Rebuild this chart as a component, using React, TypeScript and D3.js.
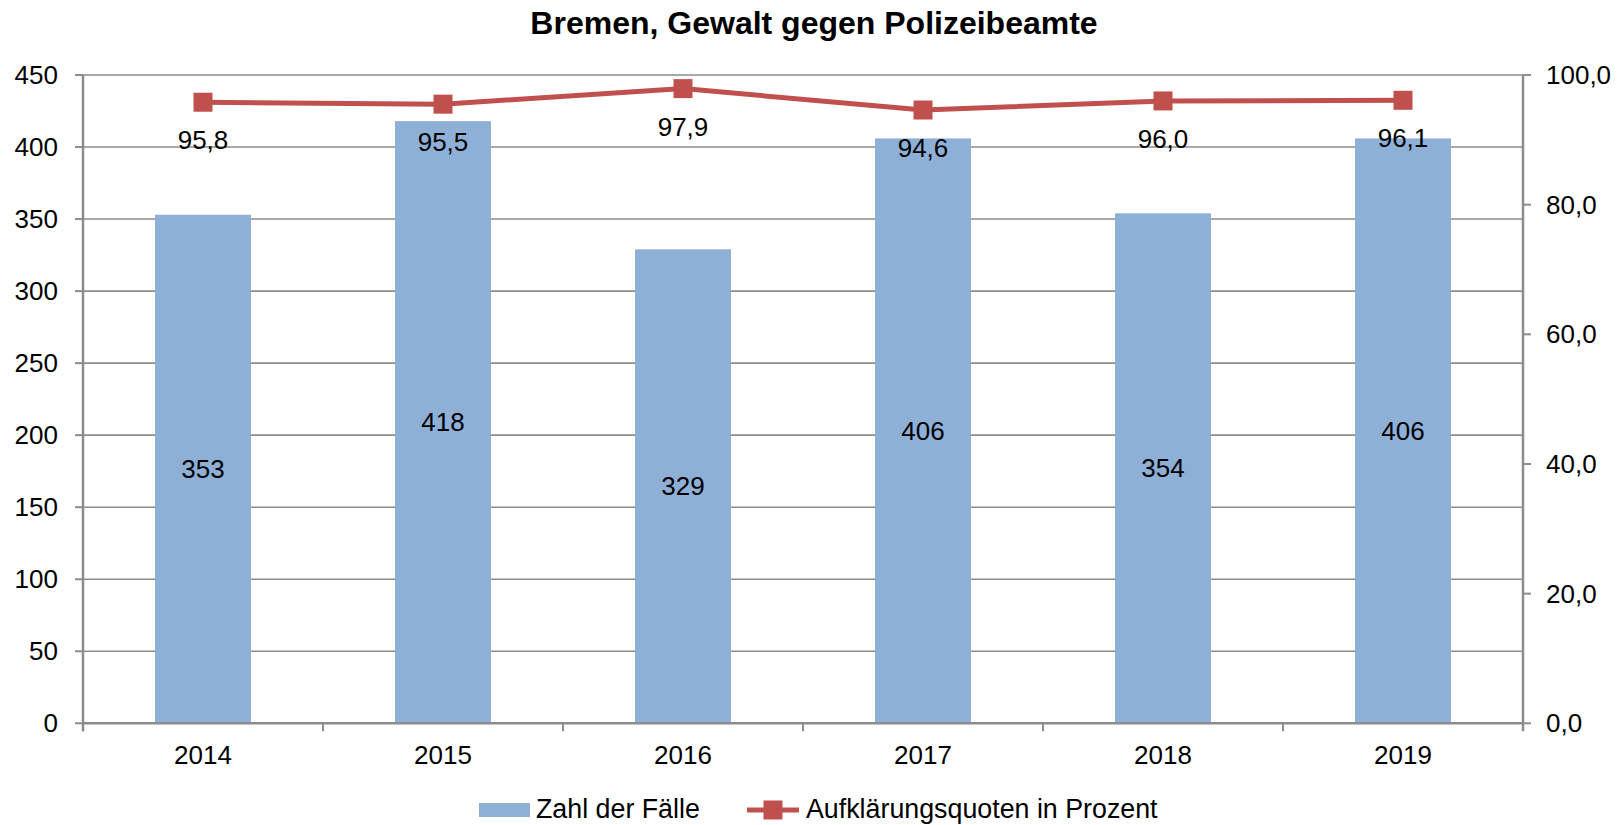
import React from "react";
import * as d3 from "d3";

const years = ["2014", "2015", "2016", "2017", "2018", "2019"];
const cases = [353, 418, 329, 406, 354, 406];
const rates = [95.8, 95.5, 97.9, 94.6, 96.0, 96.1];
const leftTicks = [0, 50, 100, 150, 200, 250, 300, 350, 400, 450];
const rightTicks = [0, 20, 40, 60, 80, 100];
const title = "Bremen, Gewalt gegen Polizeibeamte";
const legendBars = "Zahl der Fälle";
const legendLine = "Aufklärungsquoten in Prozent";

const W = 1623;
const H = 825;
const M = { left: 83, right: 1523, top: 75, bottom: 723.3 };
const FONT = "'Liberation Sans', Arial, sans-serif";
const BAR = "#8EB0D7";
const RED = "#C0504D";
const GRID = "#8C8C8C";
const AXIS = "#8C8C8C";

const fmt = (v: number) => v.toFixed(1).replace(".", ",");

export default function App() {
  const x = d3.scaleBand<string>().domain(years).range([M.left, M.right]).paddingInner(0).paddingOuter(0);
  const yL = d3.scaleLinear().domain([0, 450]).range([M.bottom, M.top]);
  const yR = d3.scaleLinear().domain([0, 100]).range([M.bottom, M.top]);
  const bw = x.bandwidth() * 0.4;
  const cx = (y: string) => (x(y) as number) + x.bandwidth() / 2;
  const line = d3
    .line<number>()
    .x((_, i) => cx(years[i]))
    .y((d) => yR(d));
  const ms = 19;

  return (
    <svg
      width={W}
      height={H}
      style={{ position: "absolute", left: 0, top: 0, background: "#fff" }}
      fontFamily={FONT}
    >
      <rect x={0} y={0} width={W} height={H} fill="#fff" />
      <text x={814} y={34} textAnchor="middle" fontWeight="bold" fontSize={32} fill="#000">
        {title}
      </text>

      {/* gridlines */}
      {leftTicks.filter((t) => t > 0).map((t) => (
        <line key={t} x1={M.left} x2={M.right} y1={yL(t)} y2={yL(t)} stroke={GRID} strokeWidth={1.6} />
      ))}

      {/* bars */}
      {cases.map((v, i) => (
        <rect
          key={years[i]}
          x={cx(years[i]) - bw / 2}
          y={yL(v)}
          width={bw}
          height={yL(0) - yL(v)}
          fill={BAR}
        />
      ))}

      {/* axes */}
      <line x1={M.left} x2={M.left} y1={M.top} y2={M.bottom + 8} stroke={AXIS} strokeWidth={2.5} />
      <line x1={M.right} x2={M.right} y1={M.top} y2={M.bottom + 8} stroke={AXIS} strokeWidth={2.5} />
      <line x1={M.left} x2={M.right} y1={M.bottom} y2={M.bottom} stroke={AXIS} strokeWidth={2.5} />
      {leftTicks.map((t) => (
        <g key={"l" + t}>
          <line x1={M.left - 8} x2={M.left} y1={yL(t)} y2={yL(t)} stroke={AXIS} strokeWidth={2} />
          <text x={58} y={yL(t) + 9} textAnchor="end" fontSize={26} fill="#000">
            {t}
          </text>
        </g>
      ))}
      {rightTicks.map((t) => (
        <g key={"r" + t}>
          <line x1={M.right} x2={M.right + 8} y1={yR(t)} y2={yR(t)} stroke={AXIS} strokeWidth={2} />
          <text x={1546} y={yR(t) + 9} textAnchor="start" fontSize={26} fill="#000">
            {fmt(t)}
          </text>
        </g>
      ))}
      {years.map((y, i) => (
        <g key={"x" + y}>
          <line x1={x(y) as number} x2={x(y) as number} y1={M.bottom} y2={M.bottom + 8} stroke={AXIS} strokeWidth={2} />
          <text x={cx(y)} y={764} textAnchor="middle" fontSize={26} fill="#000">
            {y}
          </text>
        </g>
      ))}

      {/* bar labels */}
      {cases.map((v, i) => (
        <text key={"bl" + i} x={cx(years[i])} y={yL(v / 2) + 9} textAnchor="middle" fontSize={26} fill="#000">
          {v}
        </text>
      ))}

      {/* line */}
      <path d={line(rates) || ""} fill="none" stroke={RED} strokeWidth={5} />
      {rates.map((v, i) => (
        <rect key={"m" + i} x={cx(years[i]) - ms / 2} y={yR(v) - ms / 2} width={ms} height={ms} fill={RED} />
      ))}
      {rates.map((v, i) => (
        <text key={"rl" + i} x={cx(years[i])} y={yR(v) + 47} textAnchor="middle" fontSize={26} fill="#000">
          {fmt(v)}
        </text>
      ))}

      {/* legend */}
      <rect x={479} y={803} width={51} height={14} fill={BAR} />
      <text x={536} y={818} fontSize={26.8} fill="#000">
        {legendBars}
      </text>
      <line x1={747} x2={799} y1={810} y2={810} stroke={RED} strokeWidth={5} />
      <rect x={773 - 9.5} y={810 - 9.5} width={19} height={19} fill={RED} />
      <text x={806} y={818} fontSize={26.8} fill="#000">
        {legendLine}
      </text>
    </svg>
  );
}
